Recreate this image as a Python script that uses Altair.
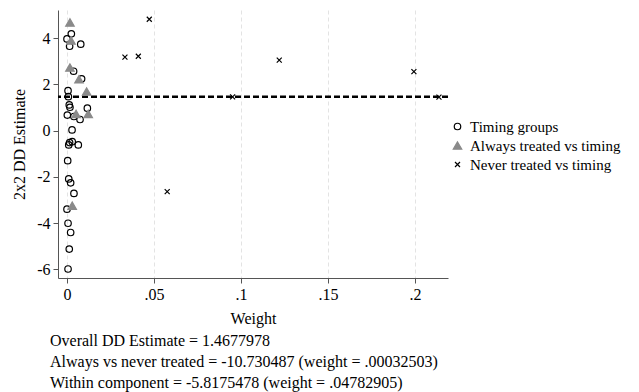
import altair as alt
import pandas as pd

# ---- data ----
timing_w = [0.0025, 0.0000, 0.0015, 0.0079, 0.0038, 0.0084, 0.0006, 0.0008, 0.0013, 0.0017,
            0.0117, 0.0002, 0.0040, 0.0075, 0.0029, 0.0015, 0.0030, 0.0010, 0.0065, 0.0004,
            0.0010, 0.0021, 0.0040, 0.0000, 0.0006, 0.0021, 0.0013, 0.0006]
timing_est = [4.19, 3.97, 3.65, 3.74, 2.57, 2.24, 1.73, 1.47, 1.11, 1.01,
              0.97, 0.67, 0.61, 0.48, 0.03, -0.52, -0.48, -0.62, -0.62, -1.30,
              -2.09, -2.26, -2.72, -3.40, -4.01, -4.41, -5.13, -5.99]

always_w = [0.0017, 0.0023, 0.0017, 0.0069, 0.0113, 0.0052, 0.0122, 0.0030]
always_est = [4.68, 3.90, 2.73, 2.22, 1.69, 0.72, 0.72, -3.25]

never_w = [0.0473, 0.0333, 0.0410, 0.1220, 0.1994, 0.2138, 0.0576, 0.0952]
never_est = [4.82, 3.18, 3.22, 3.05, 2.55, 1.45, -2.64, 1.46]

overall_dd = [1.4677978]

groups = ["Timing groups", "Always treated vs timing", "Never treated vs timing"]
x_ticks = [0, 0.05, 0.1, 0.15, 0.2]
y_ticks = [-6, -4, -2, 0, 2, 4]

notes = [
    "Overall DD Estimate = 1.4677978",
    "Always vs never treated = -10.730487 (weight = .00032503)",
    "Within component = -5.8175478 (weight = .04782905)",
]

# ---- build table ----
rows = []
for w, e in zip(timing_w, timing_est):
    rows.append({"w": w, "e": e, "group": groups[0]})
for w, e in zip(always_w, always_est):
    rows.append({"w": w, "e": e, "group": groups[1]})
for w, e in zip(never_w, never_est):
    rows.append({"w": w, "e": e, "group": groups[2]})
df = pd.DataFrame(rows)
line_df = pd.DataFrame({"y": overall_dd})

FONT = "Liberation Serif"
XPATH = "M-1,-1L1,1M-1,1L1,-1"

xscale = alt.Scale(domain=[-0.00517, 0.219], nice=False, zero=False)
yscale = alt.Scale(domain=[-6.38, 5.22], nice=False, zero=False)

leg = dict(title=None, orient="none", legendX=392, legendY=109)

points = alt.Chart(df).mark_point(opacity=1, strokeWidth=1.2).encode(
    x=alt.X("w:Q", scale=xscale,
            axis=alt.Axis(values=x_ticks, title="Weight",
                          labelExpr="datum.value == 0 ? '0' : replace(toString(datum.value), '0.', '.')",
                          grid=True, gridDash=[4, 3], gridColor="#e3e3e3", gridWidth=1,
                          titlePadding=8)),
    y=alt.Y("e:Q", scale=yscale,
            axis=alt.Axis(values=y_ticks, title="2x2 DD Estimate", grid=False,
                          labelExpr="toString(datum.value)", titlePadding=9)),
    shape=alt.Shape("group:N", sort=groups,
                    scale=alt.Scale(domain=groups, range=["circle", "triangle-up", XPATH]),
                    legend=alt.Legend(labelFont=FONT, labelFontSize=15, labelColor="black",
                                      labelOffset=5, labelLimit=400, rowPadding=3,
                                      symbolStrokeWidth=1.2, **leg)),
    fill=alt.Fill("group:N", sort=groups,
                  scale=alt.Scale(domain=groups, range=["transparent", "#8a8a8a", "transparent"]),
                  legend=alt.Legend(**leg)),
    stroke=alt.Stroke("group:N", sort=groups,
                      scale=alt.Scale(domain=groups, range=["black", "#8a8a8a", "black"]),
                      legend=alt.Legend(**leg)),
    size=alt.Size("group:N", sort=groups,
                  scale=alt.Scale(type="ordinal", domain=groups, range=[42, 72, 25]),
                  legend=alt.Legend(**leg)),
)

hline = alt.Chart(line_df).mark_rule(color="black", strokeWidth=2.5, strokeDash=[6, 3]).encode(
    y=alt.Y("y:Q", scale=yscale)
)

chart = alt.layer(hline, points).properties(
    width=390, height=268,
    padding={"left": 50, "top": 2, "right": 183, "bottom": 114},
    autosize=alt.AutoSizeParams(type="none"),
    title=alt.TitleParams(text=notes, orient="bottom", anchor="start", frame="group",
                          font=FONT, fontSize=16, fontWeight="normal", color="black",
                          lineHeight=21, offset=7, dx=-8),
).configure_view(stroke="transparent").configure_axis(
    labelFont=FONT, labelFontSize=16, labelColor="black",
    titleFont=FONT, titleFontSize=16, titleFontWeight="normal", titleColor="black",
    domainColor="#555555", tickColor="#555555", tickSize=5, labelPadding=3,
)

chart.save("out.html", embed_options={"renderer": "svg", "actions": False})
